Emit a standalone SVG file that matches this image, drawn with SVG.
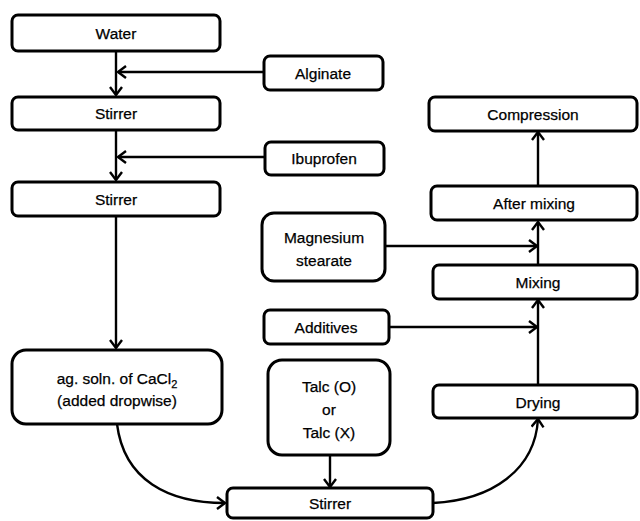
<svg xmlns="http://www.w3.org/2000/svg" width="640" height="521" viewBox="0 0 640 521">
<defs>
<marker id="arr" viewBox="0 0 10 14" refX="9" refY="7" markerWidth="10" markerHeight="14" markerUnits="userSpaceOnUse" orient="auto">
<path d="M1,1 L9,7 L1,13" fill="none" stroke="#000" stroke-width="2.4"/>
</marker>
<style>
.box{fill:#fff;stroke:#000;stroke-width:3}
.t{font-family:"Liberation Sans",Arial,sans-serif;font-size:15.5px;fill:#000;stroke:#000;stroke-width:0.25;text-anchor:middle}
.c{fill:none;stroke:#000;stroke-width:2.4}
</style>
</defs>
<rect width="640" height="521" fill="#fff"/>
<g id="connectors">
<path class="c" d="M116,51 V95" marker-end="url(#arr)"/>
<path class="c" d="M264,72 H118" marker-end="url(#arr)"/>
<path class="c" d="M116,130 V180" marker-end="url(#arr)"/>
<path class="c" d="M265,157 H118" marker-end="url(#arr)"/>
<path class="c" d="M116,216 V348" marker-end="url(#arr)"/>
<path class="c" d="M117,424 C124,480 168,503 225,503" marker-end="url(#arr)"/>
<path class="c" d="M330,455 V487" marker-end="url(#arr)"/>
<path class="c" d="M433,503 C492,500 535,470 538,419" marker-end="url(#arr)"/>
<path class="c" d="M538,385 V300" marker-end="url(#arr)"/>
<path class="c" d="M389,327 H537" marker-end="url(#arr)"/>
<path class="c" d="M538,264 V222" marker-end="url(#arr)"/>
<path class="c" d="M385,246 H537" marker-end="url(#arr)"/>
<path class="c" d="M538,186 V132" marker-end="url(#arr)"/>
</g>
<g id="water"><rect class="box" x="12" y="15" width="208" height="36" rx="6"/><text class="t" x="116" y="39">Water</text></g>
<g id="alginate"><rect class="box" x="264" y="56" width="119" height="34" rx="6"/><text class="t" x="323" y="79">Alginate</text></g>
<g id="stirrer1"><rect class="box" x="12" y="97" width="208" height="33" rx="6"/><text class="t" x="116" y="119">Stirrer</text></g>
<g id="ibuprofen"><rect class="box" x="265" y="142" width="119" height="33" rx="6"/><text class="t" x="324" y="164">Ibuprofen</text></g>
<g id="stirrer2"><rect class="box" x="12" y="182" width="208" height="34" rx="6"/><text class="t" x="116" y="205">Stirrer</text></g>
<g id="cacl2"><rect class="box" x="12" y="350" width="210" height="74" rx="14"/>
<text class="t" x="117" y="384">ag. soln. of CaCl<tspan font-size="11" dy="4">2</tspan></text>
<text class="t" x="117" y="406">(added dropwise)</text></g>
<g id="talc"><rect class="box" x="268" y="360" width="122" height="95" rx="14"/>
<text class="t" x="329" y="392">Talc (O)</text>
<text class="t" x="329" y="415">or</text>
<text class="t" x="329" y="438">Talc (X)</text></g>
<g id="stirrer3"><rect class="box" x="227" y="488" width="206" height="30" rx="6"/><text class="t" x="330" y="509">Stirrer</text></g>
<g id="additives"><rect class="box" x="264" y="310" width="125" height="34" rx="6"/><text class="t" x="326" y="333">Additives</text></g>
<g id="drying"><rect class="box" x="433" y="385" width="204" height="33" rx="6"/><text class="t" x="538" y="408">Drying</text></g>
<g id="mixing"><rect class="box" x="433" y="265" width="204" height="34" rx="6"/><text class="t" x="538" y="288">Mixing</text></g>
<g id="magnesium"><rect class="box" x="262" y="213" width="123" height="68" rx="12"/>
<text class="t" x="324" y="243">Magnesium</text>
<text class="t" x="324" y="266">stearate</text></g>
<g id="aftermixing"><rect class="box" x="431" y="186" width="206" height="34" rx="6"/><text class="t" x="534" y="209">After mixing</text></g>
<g id="compression"><rect class="box" x="429" y="97" width="208" height="34" rx="6"/><text class="t" x="533" y="120">Compression</text></g>
</svg>
